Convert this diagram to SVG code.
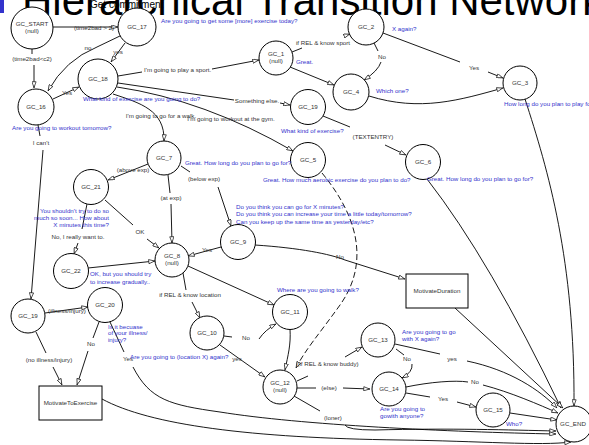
<svg xmlns="http://www.w3.org/2000/svg" width="589" height="445" viewBox="0 0 589 445">
<style>
text{font-family:"Liberation Sans",Arial,sans-serif;}
.n circle,.n rect{fill:#fff;stroke:#000;stroke-width:1;}
.t{font-size:6.2px;fill:#333;text-anchor:middle;}
.q{font-size:6.2px;fill:#3333cc;}
.qe{font-size:6.2px;fill:#3333cc;text-anchor:end;}
.l{font-size:6.2px;fill:#333;text-anchor:middle;}
.e{fill:none;stroke:#000;stroke-width:0.9;marker-end:url(#a);}
.d{stroke-dasharray:6 3;}
</style>
<defs>
<marker id="a" viewBox="0 0 8 6" refX="8" refY="3" markerWidth="7" markerHeight="5" markerUnits="userSpaceOnUse" orient="auto">
<path d="M0.5,0.5 L7.5,3 L0.5,5.5 z" fill="#fff" stroke="#000" stroke-width="0.8"/>
</marker>
</defs>
<rect x="0" y="0" width="4" height="13" fill="#3333cc"/>
<text x="22" y="15" font-size="42" fill="#000">Hierarchical Transition Network</text>
<text x="90" y="8" font-size="10" fill="#000">Get commitment</text>

<g id="connectors">
<path class="e" d="M53,27 L118,27"/>
<text class="l" x="94" y="30">(time2bad &gt; 2)</text>
<path class="e" d="M32,49 L32,54 M34,65 L34,88"/>
<text class="l" x="32" y="61">(time2bad&lt;c2)</text>
<path class="e" d="M122,35 L97,47 Q65,60 48,91"/>
<text class="l" x="88" y="50">no</text>
<path class="e" d="M125,43 L111,62"/>
<text class="l" x="118" y="54">yes</text>
<path class="e" d="M53,99 L79,87"/>
<text class="l" x="67" y="95">Yes</text>
<path class="e" d="M118,76 L142,72 M212,69 L259,60"/>
<text class="l" x="144" y="72" style="text-anchor:start">I'm going to play a sport.</text>
<path class="e" d="M118,83 L234,100 M280,103 L290,105"/>
<text class="l" x="257" y="103">Something else.</text>
<path class="e" d="M117,87 Q205,100 293,151"/>
<text class="l" x="231" y="121">I'm going to workout at the gym.</text>
<path class="e" d="M113,94 C140,103 165,110 164,141"/>
<text class="l" x="161" y="118">I'm going to go for a walk.</text>
<path class="e" d="M290,67 L334,85"/>
<path class="e" d="M292,52 L302,48 M344,36 L350,34"/>
<text class="l" x="323" y="45">if REL &amp; know sport</text>
<path class="e" d="M374,43 L378,51 M381,62 Q378,71 364,80"/>
<text class="l" x="382" y="59">No</text>
<path class="e" d="M383,33 L460,62 M488,72 L503,78"/>
<text class="l" x="474" y="70">Yes</text>
<path class="e" d="M369,96 C420,112 460,100 503,88"/>
<path class="e" d="M525,99 C548,170 575,260 574,406"/>
<path class="e" d="M323,116 L350,127 M385,145 L406,155"/>
<text class="l" x="373" y="139">(TEXTENTRY)</text>
<path class="e d" d="M322,173 C365,225 365,270 340,305 C320,333 305,350 296,368"/>
<path class="e" d="M427,179 Q490,260 561,408"/>
<path class="e" d="M455,308 L563,408"/>
<path class="e" d="M255,245 C300,248 330,254 345,260 L405,279"/>
<text class="l" x="340" y="259">No</text>
<path class="e" d="M221,247 L188,256"/>
<text class="l" x="207" y="252">Yes</text>
<path class="e" d="M148,164 L108,180"/>
<text class="l" x="133" y="172">(above exp)</text>
<path class="e" d="M168,175 L170,193 M171,204 L172,243"/>
<text class="l" x="171" y="200">(at exp)</text>
<path class="e" d="M181,166 L190,172 M218,187 L231,226"/>
<text class="l" x="204" y="181">(below exp)</text>
<path class="e" d="M87,204 L82,229 M78,243 L74,254"/>
<text class="l" x="78" y="239">No, I really want to.</text>
<path class="e" d="M105,200 L133,225 M147,239 L159,248"/>
<text class="l" x="140" y="234">OK</text>
<path class="e" d="M88,268 L155,261"/>
<path class="e" d="M183,273 L186,290 M192,302 L200,318"/>
<text class="l" x="190" y="297">if REL &amp; know location</text>
<path class="e" d="M188,266 L274,305"/>
<path class="e" d="M224,336 L232,337 M259,339 Q265,330 276,324"/>
<text class="l" x="246" y="340">No</text>
<path class="e" d="M220,345 L265,377"/>
<text class="l" x="237" y="361">yes</text>
<path class="e" d="M290,329 C291,345 288,355 285,370"/>
<path class="e" d="M297,381 L308,376 M345,357 L362,347"/>
<text class="l" x="328" y="366">(if REL &amp; know buddy)</text>
<path class="e" d="M297,388 L316,388 M343,388 L370,389"/>
<text class="l" x="329" y="390">(else)</text>
<path class="e" d="M294,396 L320,411 M345,425 Q347,430 375,430 C450,428 510,430 556,431"/>
<text class="l" x="333" y="420">(loner)</text>
<path class="e" d="M396,349 L404,355 M412,364 Q413,372 402,378"/>
<text class="l" x="407" y="361">No</text>
<path class="e" d="M395,344 L440,354 M467,361 C510,370 540,390 557,408"/>
<text class="l" x="452" y="361">yes</text>
<path class="e" d="M406,387 C430,382 455,380 468,382 M483,385 C510,392 540,405 558,413"/>
<text class="l" x="475" y="384">No</text>
<path class="e" d="M406,393 L430,397 M457,402 L476,407"/>
<text class="l" x="443" y="401">Yes</text>
<path class="e" d="M510,413 L557,420"/>
<path class="e" d="M110,322 L124,352 M133,367 C150,400 170,405 220,412 C300,425 450,432 556,434"/>
<text class="l" x="128" y="361">Yes</text>
<path class="e" d="M102,399 C150,425 250,438 400,440 C480,441 540,446 571,442"/>
<path class="e" d="M99,322 L93,338 M88,351 L77,385"/>
<text class="l" x="91" y="346">No</text>
<path class="e" d="M36,332 L46,353 M53,367 L62,385"/>
<text class="l" x="49" y="362">(no illness/injury)</text>
<path class="e" d="M45,313 L88,307"/>
<text class="l" x="67" y="313">(illness/injury)</text>
<path class="e" d="M38,125 L40,136 M43,150 L31,299"/>
<text class="l" x="41" y="145">I can't</text>
</g>

<g id="GC_START" class="n"><circle cx="32" cy="28" r="21"/><text class="t" x="32" y="26">GC_START</text><text class="t" x="32" y="33">(null)</text></g>
<g id="GC_17" class="n"><circle cx="137" cy="27" r="19"/><text class="t" x="137" y="29">GC_17</text><text class="q" x="161" y="23">Are you going to get some [more] exercise today?</text></g>
<g id="GC_18" class="n"><circle cx="98" cy="79" r="20"/><text class="t" x="98" y="81">GC_18</text><text class="q" x="83" y="101">What kind of exercise are you going to do?</text></g>
<g id="GC_16" class="n"><circle cx="36" cy="107" r="18"/><text class="t" x="36" y="109">GC_16</text><text class="q" x="12" y="130">Are you going to workout tomorrow?</text></g>
<g id="GC_1" class="n"><circle cx="276" cy="58" r="17"/><text class="t" x="276" y="56">GC_1</text><text class="t" x="276" y="63">(null)</text><text class="q" x="296" y="64">Great.</text></g>
<g id="GC_2" class="n"><circle cx="366" cy="27" r="18"/><text class="t" x="366" y="29">GC_2</text><text class="q" x="392" y="31">X again?</text></g>
<g id="GC_3" class="n"><circle cx="520" cy="83" r="17"/><text class="t" x="520" y="85">GC_3</text><text class="q" x="504" y="106">How long do you plan to play for?</text></g>
<g id="GC_4" class="n"><circle cx="351" cy="92" r="18"/><text class="t" x="351" y="94">GC_4</text><text class="q" x="376" y="93">Which one?</text></g>
<g id="GC_19a" class="n"><circle cx="308" cy="107" r="17.5"/><text class="t" x="308" y="109">GC_19</text><text class="q" x="281" y="133">What kind of exercise?</text></g>
<g id="GC_5" class="n"><circle cx="308" cy="160" r="17.5"/><text class="t" x="308" y="162">GC_5</text><text class="q" x="263" y="182">Great. How much aerobic exercise do you plan to do?</text></g>
<g id="GC_6" class="n"><circle cx="423" cy="162" r="17.5"/><text class="t" x="423" y="164">GC_6</text><text class="q" x="427" y="181">Great. How long do you plan to go for?</text></g>
<g id="GC_7" class="n"><circle cx="164" cy="158" r="17"/><text class="t" x="164" y="160">GC_7</text><text class="q" x="185" y="165">Great. How long do you plan to go for?</text></g>
<g id="GC_21" class="n"><circle cx="91" cy="187" r="17.5"/><text class="t" x="91" y="189">GC_21</text><text class="qe" x="109" y="213">You shouldn't try to do so</text><text class="qe" x="109" y="220">much so soon... How about</text><text class="qe" x="109" y="227">X minutes this time?</text></g>
<g id="GC_8" class="n"><circle cx="172" cy="260" r="17"/><text class="t" x="172" y="258">GC_8</text><text class="t" x="172" y="265">(null)</text></g>
<g id="GC_9" class="n"><circle cx="238" cy="242" r="17.5"/><text class="t" x="238" y="244">GC_9</text><text class="q" x="236" y="209">Do you think you can go for X minutes?</text><text class="q" x="236" y="216">Do you think you can increase your time a little today/tomorrow?</text><text class="q" x="236" y="224">Can you keep up the same time as yesterday/etc?</text></g>
<g id="GC_22" class="n"><circle cx="71" cy="271" r="17.5"/><text class="t" x="71" y="273">GC_22</text><text class="q" x="90" y="276">OK, but you should try</text><text class="q" x="90" y="284">to increase gradually..</text></g>
<g id="GC_11" class="n"><circle cx="290" cy="312" r="17.5"/><text class="t" x="290" y="314">GC_11</text><text class="q" x="277" y="292">Where are you going to walk?</text></g>
<g id="GC_10" class="n"><circle cx="207" cy="333" r="17"/><text class="t" x="207" y="335">GC_10</text><text class="q" x="130" y="359">Are you going to (location X) again?</text></g>
<g id="GC_12" class="n"><circle cx="280" cy="387" r="17"/><text class="t" x="280" y="385">GC_12</text><text class="t" x="280" y="392">(null)</text></g>
<g id="GC_13" class="n"><circle cx="378" cy="340" r="17"/><text class="t" x="378" y="342">GC_13</text><text class="q" x="402" y="334">Are you going to go</text><text class="q" x="402" y="341">with X again?</text></g>
<g id="GC_14" class="n"><circle cx="389" cy="389" r="17"/><text class="t" x="389" y="391">GC_14</text><text class="q" x="380" y="411">Are you going to</text><text class="q" x="380" y="418">gowith anyone?</text></g>
<g id="GC_15" class="n"><circle cx="493" cy="410" r="17"/><text class="t" x="493" y="412">GC_15</text><text class="q" x="506" y="426">Who?</text></g>
<g id="GC_END" class="n"><circle cx="574" cy="424" r="18"/><text class="t" x="573" y="426">GC_END</text></g>
<g id="GC_19b" class="n"><circle cx="28" cy="316" r="17"/><text class="t" x="28" y="318">GC_19</text></g>
<g id="GC_20" class="n"><circle cx="105" cy="305" r="17.5"/><text class="t" x="105" y="307">GC_20</text><text class="q" x="108" y="329">Is it becuase</text><text class="q" x="108" y="335">of your illness/</text><text class="q" x="108" y="342">injury?</text></g>
<g id="MotivateToExercise" class="n"><rect x="39" y="386" width="63" height="34"/><text class="t" x="70.5" y="405">MotivateToExercise</text></g>
<g id="MotivateDuration" class="n"><rect x="406" y="274" width="62" height="34"/><text class="t" x="437" y="293">MotivateDuration</text></g>
</svg>
